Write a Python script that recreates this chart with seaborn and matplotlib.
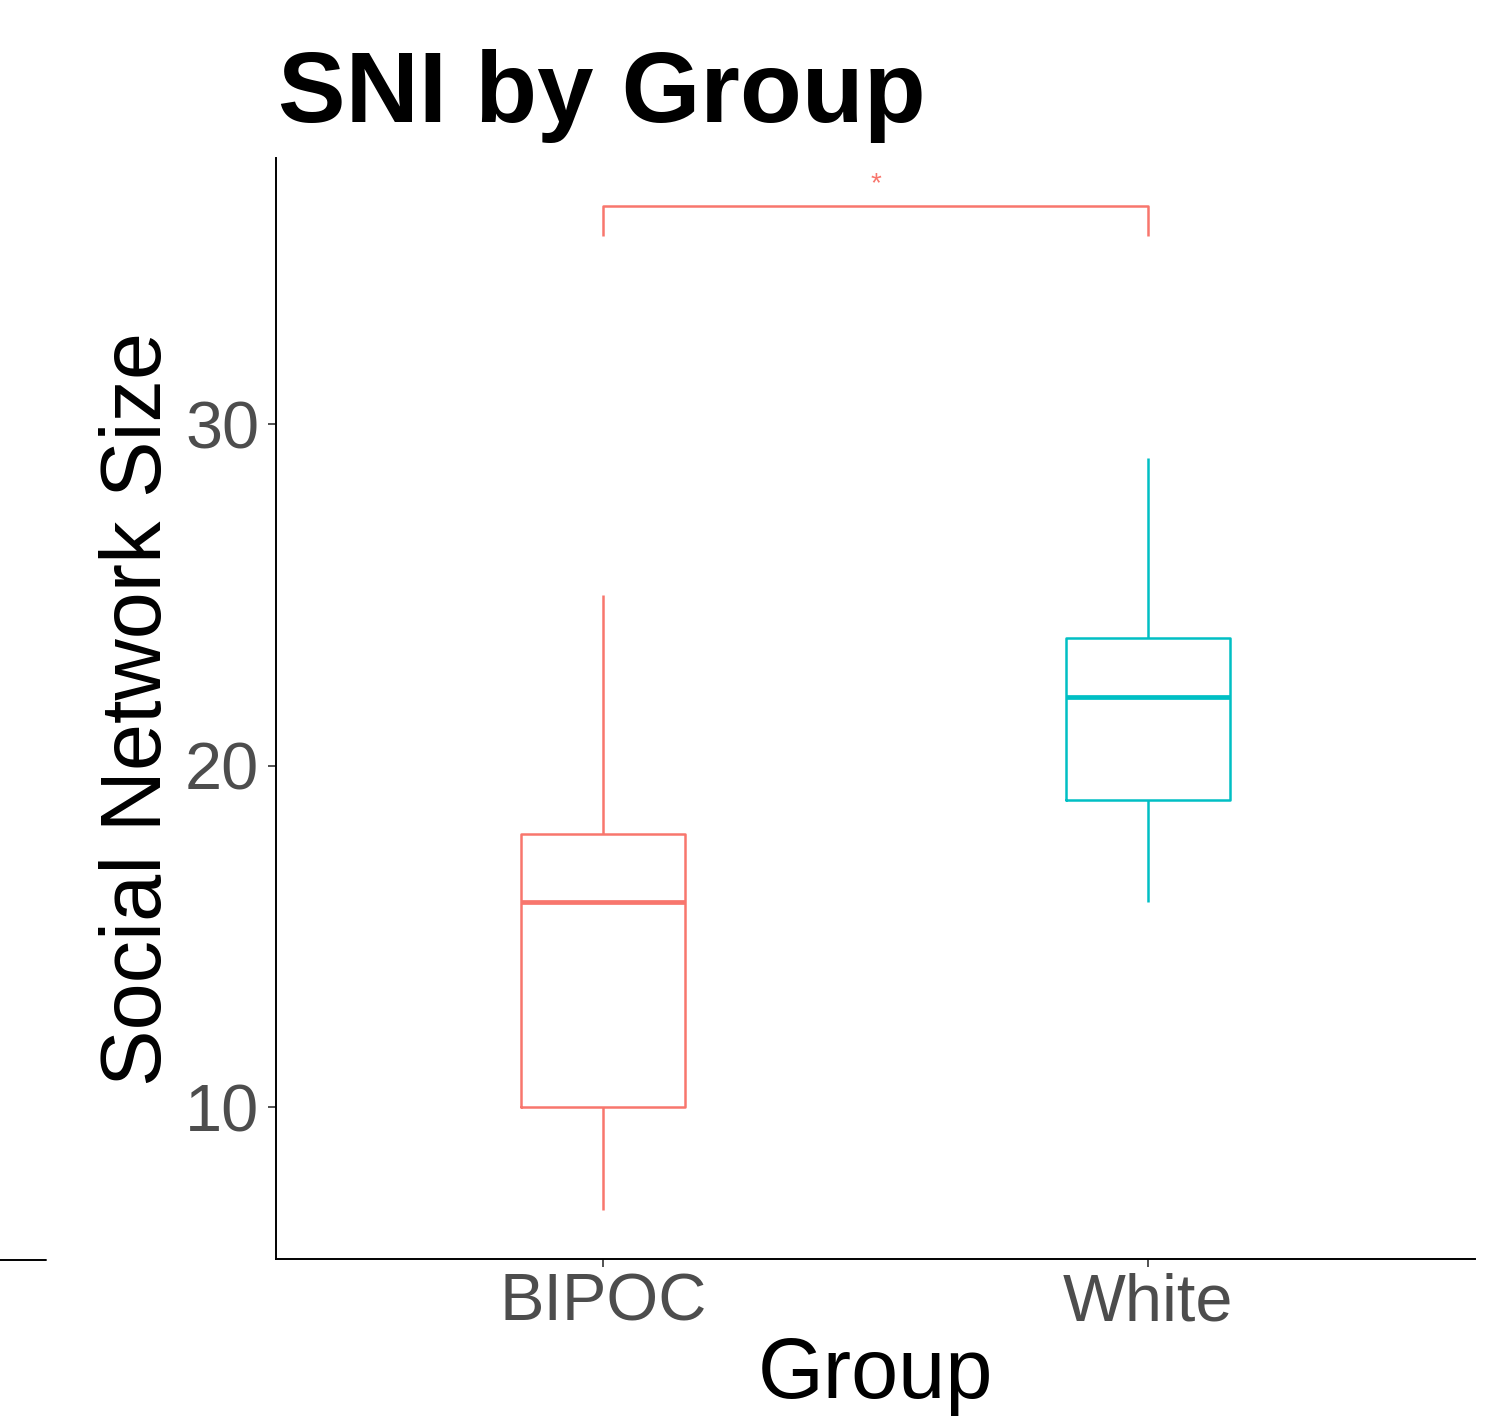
import pandas as pd
import matplotlib.pyplot as plt
import seaborn as sns
from matplotlib.lines import Line2D

# Five-number summaries (min, Q1, median, Q3, max)
groups = ["BIPOC", "White"]
bipoc_values = [7, 10, 16, 18, 25]
white_values = [16, 19, 22, 23.75, 29]
colors = ["#F8766D", "#00BFC4"]

# Significance bracket
bracket_low = 35.5
bracket_high = 36.4
sig_label = "*"

data = pd.DataFrame({
    "Group": [groups[0]] * len(bipoc_values) + [groups[1]] * len(white_values),
    "SNI": bipoc_values + white_values,
})

sns.set_style("white")
plt.rcParams["font.family"] = ["Liberation Sans", "DejaVu Sans"]

fig = plt.figure(figsize=(14.94, 14.18), dpi=100)
ax = fig.add_axes([0.1847, 0.1121, 0.8026, 0.7765])

sns.boxplot(data=data, x="Group", y="SNI", hue="Group", palette=colors,
            fill=False, width=0.3, whis=10, linewidth=1.8, legend=False,
            medianprops={"linewidth": 3.4}, capprops={"visible": False}, ax=ax)

ax.set_xlim(-0.6, 1.6)
ax.set_ylim(5.55, 37.8)
ax.set_yticks([10, 20, 30])

# Comparison bracket
ax.plot([0, 0, 1, 1], [bracket_low, bracket_high, bracket_high, bracket_low],
        color=colors[0], linewidth=1.8, solid_capstyle="butt")
ax.text(0.5, bracket_high + 0.25, sig_label, color=colors[0], fontsize=20,
        ha="center", va="bottom")

for side in ["top", "right"]:
    ax.spines[side].set_visible(False)
for side in ["left", "bottom"]:
    ax.spines[side].set_color("black")
    ax.spines[side].set_linewidth(1.4)

ax.tick_params(axis="both", which="both", length=6, width=1.2, color="#333333",
               labelsize=48, labelcolor="#4D4D4D")
ax.tick_params(axis="y", pad=6, left=True)
ax.tick_params(axis="x", pad=4, bottom=True)

ax.set_xlabel("Group", fontsize=61, color="black", labelpad=1)
ax.set_ylabel("Social Network Size", fontsize=61, color="black", labelpad=4)
fig.text(0.186, 0.914, "SNI by Group", fontsize=73, fontweight="bold",
         color="black", ha="left", va="baseline")

# stray line segment at left edge
fig.add_artist(Line2D([0, 0.031], [0.1114, 0.1114], color="black", linewidth=1.4))

plt.savefig("out.png", dpi=100)
